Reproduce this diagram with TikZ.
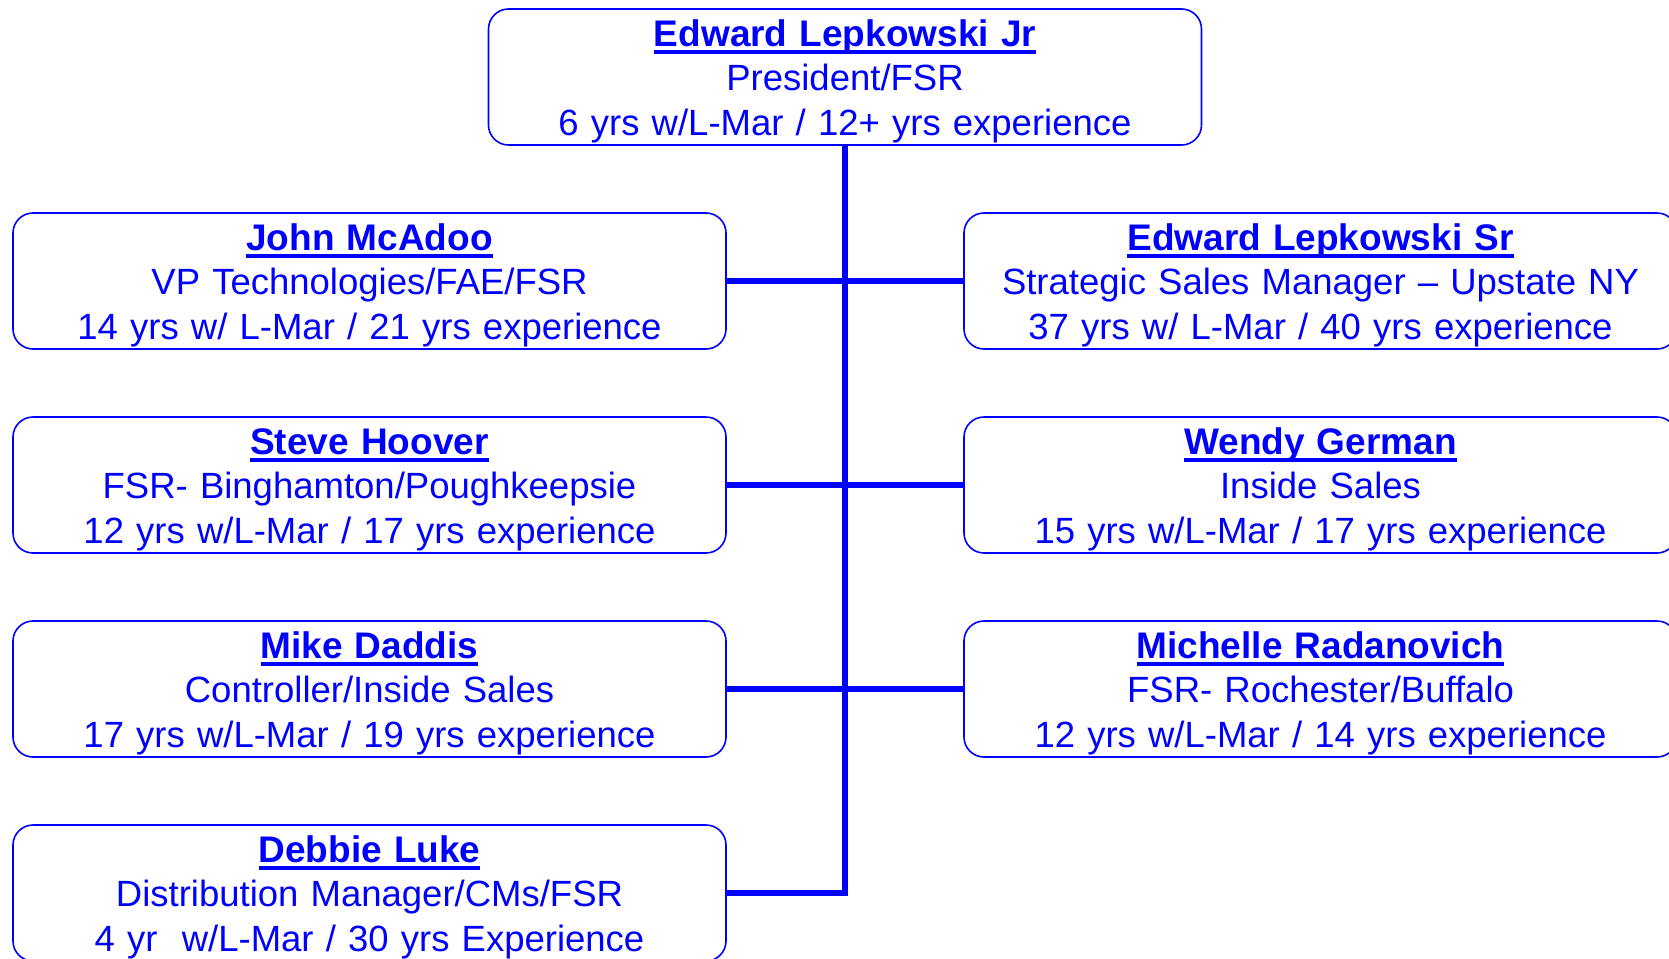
\documentclass[tikz,border=0pt]{standalone}
\usepackage{fontspec}
\setmainfont{Liberation Sans}
\definecolor{lmblue}{RGB}{0,0,255}
\newcommand\nameul[1]{\leavevmode\rule{0pt}{35.5pt}\setbox0\hbox{\fontsize{37}{44.7}\selectfont\bfseries #1}\rlap{\vrule height -3.5pt depth 7.5pt width \wd0}\box0}
\begin{document}
\begin{tikzpicture}[x=1pt,y=-1pt,
  box/.style={draw=lmblue, line width=1.6pt, rounded corners=20pt, text=lmblue,
    minimum width=713pt, minimum height=136pt, inner sep=0pt, align=center,
    text width=713pt, font=\fontsize{36.5}{44.7}\selectfont},
  link/.style={draw=lmblue, line width=5.5pt}]
\useasboundingbox (0,0) rectangle (1669,958);
\clip (0,0) rectangle (1669,958);
\node[box] (jr) at (845,77) {\nameul{Edward Lepkowski Jr}\\President/FSR\\6 yrs w/L-Mar / 12+ yrs experience};
\node[box] (john) at (369.5,281) {\nameul{John McAdoo}\\VP Technologies/FAE/FSR\\14 yrs w/ L-Mar / 21 yrs experience};
\node[box] (sr) at (1320.5,281) {\nameul{Edward Lepkowski Sr}\\Strategic Sales Manager -- Upstate NY\\37 yrs w/ L-Mar / 40 yrs experience};
\node[box] (steve) at (369.5,485) {\nameul{Steve Hoover}\\FSR- Binghamton/Poughkeepsie\\12 yrs w/L-Mar / 17 yrs experience};
\node[box] (wendy) at (1320.5,485) {\nameul{Wendy German}\\Inside Sales\\15 yrs w/L-Mar / 17 yrs experience};
\node[box] (mike) at (369.5,689) {\nameul{Mike Daddis}\\Controller/Inside Sales\\17 yrs w/L-Mar / 19 yrs experience};
\node[box] (mich) at (1320.5,689) {\nameul{Michelle Radanovich}\\FSR- Rochester/Buffalo\\12 yrs w/L-Mar / 14 yrs experience};
\node[box] (deb) at (369.5,893) {\nameul{Debbie Luke}\\Distribution Manager/CMs/FSR\\4 yr\ \ w/L-Mar / 30 yrs Experience};
\draw[link] (jr.south) |- (deb.east);
\draw[link] (john.east) -- (sr.west);
\draw[link] (steve.east) -- (wendy.west);
\draw[link] (mike.east) -- (mich.west);
\end{tikzpicture}
\end{document}
